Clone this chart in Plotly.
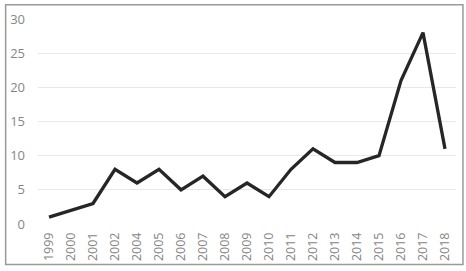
import plotly.graph_objects as go

years = ["1999", "2000", "2001", "2002", "2004", "2005", "2006", "2007", "2008", "2009",
         "2010", "2011", "2012", "2013", "2014", "2015", "2016", "2017", "2018"]
counts = [1, 2, 3, 8, 6, 8, 5, 7, 4, 6, 4, 8, 11, 9, 9, 10, 21, 28, 11]
y_ticks = [0, 5, 10, 15, 20, 25, 30]

fig = go.Figure()
fig.add_trace(go.Scatter(x=years, y=counts, mode="lines",
                         line=dict(color="#262626", width=3.3), hoverinfo="skip"))

W, H = 466, 271
L, R, T, B = 36, 10, 18, 45
pw, ph = W - L - R, H - T - B

def px_x(p):
    return (p - L) / pw

def px_y(p):
    return (H - B - p) / ph

fig.update_layout(
    width=W, height=H,
    margin=dict(l=L, r=R, t=T, b=B),
    paper_bgcolor="white", plot_bgcolor="white",
    showlegend=False,
    font=dict(family="Open Sans", size=12.5, color="#868686"),
    xaxis=dict(type="category", tickangle=-90, showgrid=False, zeroline=False,
               showline=False, ticks="", range=[-0.5, len(years) - 0.5],
               ticklabelstandoff=5, tickfont=dict(size=12.5)),
    yaxis=dict(range=[0, 30], tickvals=y_ticks, showgrid=True, gridcolor="#e8e8e8",
               gridwidth=1.2, zeroline=False, showline=False, ticks="",
               ticklabelstandoff=12, tickfont=dict(size=13)),
    shapes=[dict(type="rect", xref="paper", yref="paper",
                 x0=px_x(3.5), x1=px_x(463), y0=px_y(267), y1=px_y(3.5),
                 line=dict(color="#9a9a9a", width=1.5), layer="below")],
)

fig.write_html("out.html")
